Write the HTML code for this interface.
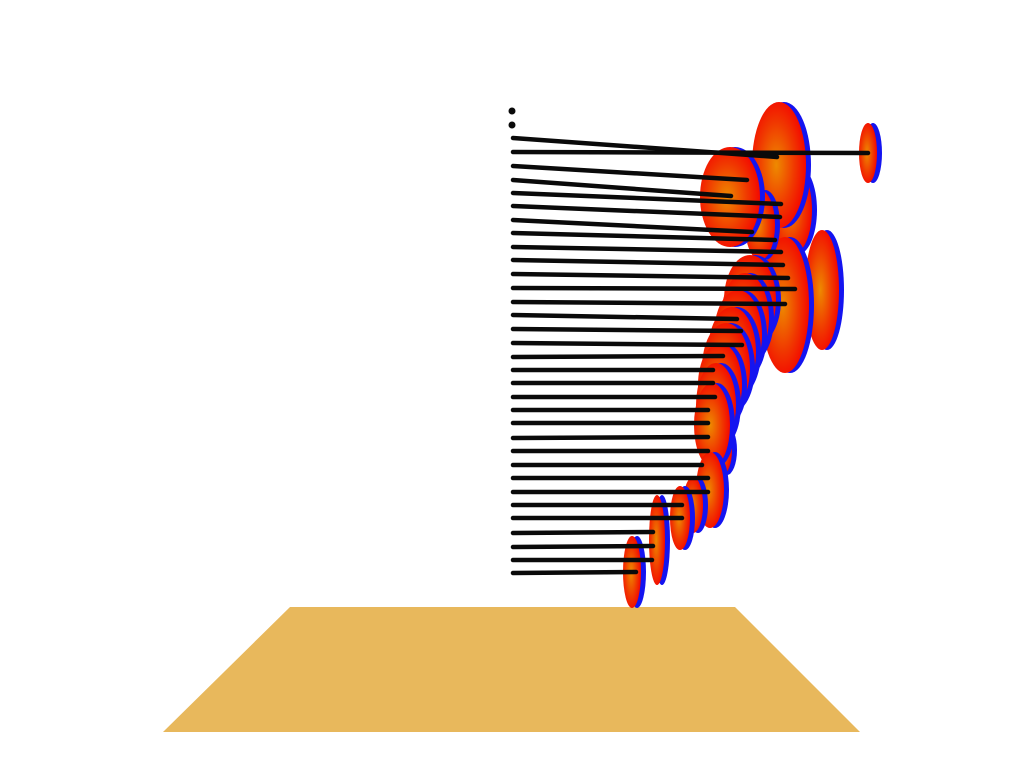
<!DOCTYPE html>
<html><head><meta charset="utf-8"><style>
html,body{margin:0;padding:0;background:#fff;width:1024px;height:768px;overflow:hidden}
svg{display:block}
</style></head><body>
<svg id="chart" width="1024" height="768" viewBox="0 0 1024 768" xmlns="http://www.w3.org/2000/svg">
<defs>
<radialGradient id="dg" cx="0.45" cy="0.5" r="0.55">
<stop offset="0" stop-color="#ee8a00"/><stop offset="0.6" stop-color="#f03a00"/><stop offset="1" stop-color="#f40800"/>
</radialGradient>
</defs>
<polygon points="290,607 735,607 860,732 163,732" fill="#e8b85c"/>
<g id="discs"></g>
<g id="sticks"></g>
<g id="dots"></g>
</svg>
<script>
// stick rows: start y, end x, end y
const stickStartY=[138,152,166,180,193,206,220,233,247,260,274,288,302,315,329,343,357,370,383,397,410,423,438,451,465,478,492,505,518,533,547,560,573];
const stickEndX=[777,868,747,731,781,780,752,775,781,783,788,795,785,737,741,742,723,713,713,715,708,708,708,708,702,708,708,682,682,653,653,652,636];
const stickEndY=[157,153,180,196,204,217,232,240,252,265,278,289,304,319,331,345,356,370,383,397,410,423,437,451,465,478,492,505,518,532,546,560,572];
// discs: center x, center y, radius x, radius y
const discX=[779,868,822,785,760,792,730,750,745,738,732,726,720,716,712,722,710,693,680,657,632];
const discY=[165,153,290,305,225,210,197,300,318,335,352,368,385,405,425,450,490,505,518,540,572];
const discRX=[27,9,17,24,15,20,30,26,24,24,24,24,22,20,18,10,14,10,10,8,9];
const discRY=[63,30,60,68,35,45,50,45,45,45,45,45,42,42,42,25,38,28,32,45,36];
const dotY=[111,125];
const ns="http://www.w3.org/2000/svg";
const dg=document.getElementById('discs');
const order=discX.map((v,i)=>i).sort((a,b)=>discX[b]-discX[a]);
order.forEach(i=>{
  const g=document.createElementNS(ns,'g');
  
  
  const b=document.createElementNS(ns,'ellipse');
  b.setAttribute('cx',discX[i]+5);b.setAttribute('cy',discY[i]);
  b.setAttribute('rx',discRX[i]);b.setAttribute('ry',discRY[i]);
  b.setAttribute('fill','#1414f0');
  const o=document.createElementNS(ns,'ellipse');
  o.setAttribute('cx',discX[i]);o.setAttribute('cy',discY[i]);
  o.setAttribute('rx',discRX[i]);o.setAttribute('ry',discRY[i]);
  o.setAttribute('fill','url(#dg)');
  g.appendChild(b);g.appendChild(o);dg.appendChild(g);
});
const sg=document.getElementById('sticks');
stickStartY.forEach((y,i)=>{
  const l=document.createElementNS(ns,'line');
  
  
  l.setAttribute('x1',513);l.setAttribute('y1',y);
  l.setAttribute('x2',stickEndX[i]);l.setAttribute('y2',stickEndY[i]);
  l.setAttribute('stroke','#0a0a0a');l.setAttribute('stroke-width',4.5);
  l.setAttribute('stroke-linecap','round');
  sg.appendChild(l);
});
const dd=document.getElementById('dots');
dotY.forEach((y,i)=>{
  const c=document.createElementNS(ns,'circle');
  
  
  c.setAttribute('cx',512);c.setAttribute('cy',y);c.setAttribute('r',3.5);
  c.setAttribute('fill','#0a0a0a');
  dd.appendChild(c);
});
</script>
</body></html>
